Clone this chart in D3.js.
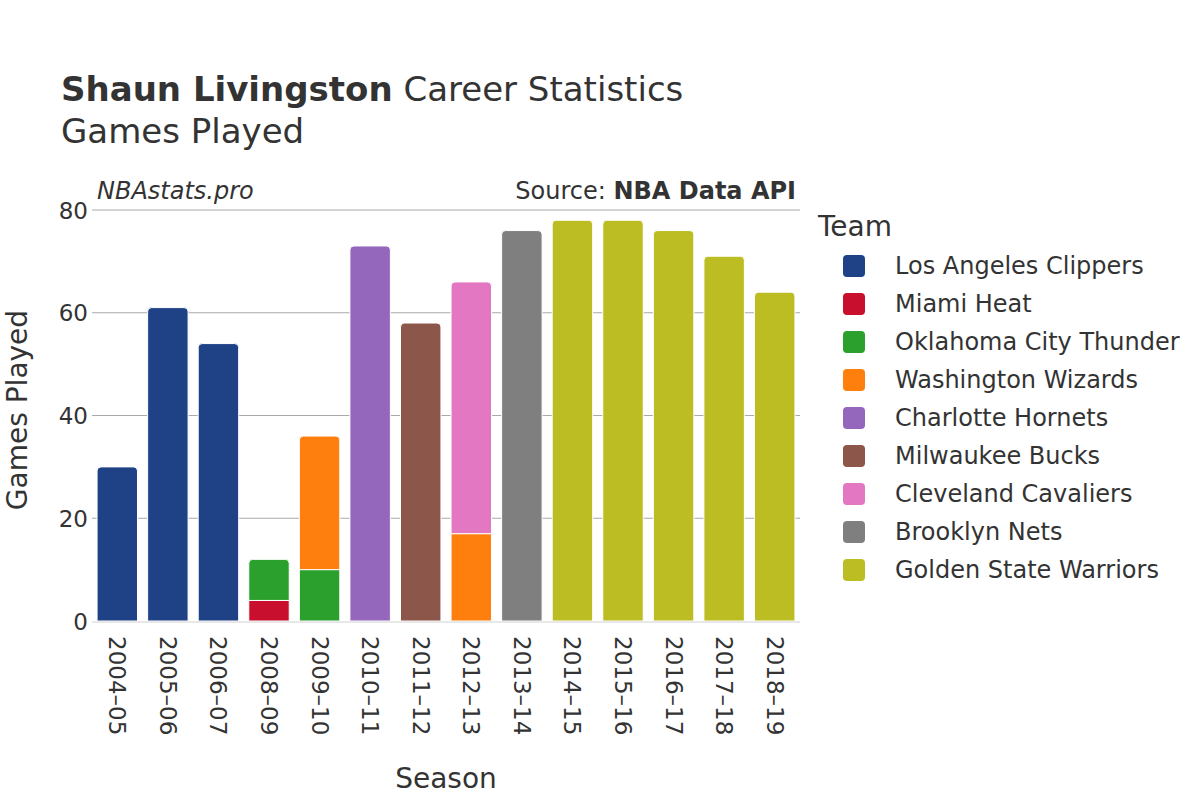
<!DOCTYPE html>
<html><head><meta charset="utf-8">
<script src="https://cdn.jsdelivr.net/npm/d3@7"></script>
<style>body{margin:0;background:#fff;} text{font-family:"DejaVu Sans",sans-serif;fill:#333;}</style>
</head><body><svg id="c" width="1200" height="800"></svg>
<script>
const seasons = ["2004–05","2005–06","2006–07","2008–09","2009–10","2010–11","2011–12","2012–13","2013–14","2014–15","2015–16","2016–17","2017–18","2018–19"];
const teams = ["Los Angeles Clippers","Miami Heat","Oklahoma City Thunder","Washington Wizards","Charlotte Hornets","Milwaukee Bucks","Cleveland Cavaliers","Brooklyn Nets","Golden State Warriors"];
const teamColors = ["#1f4287","#c8102e","#2ca02c","#ff7f0e","#9467bd","#8c564b","#e377c2","#7f7f7f","#bcbd22"];
// games per season per team (in stacking order)
const gamesSeason = ["2004–05","2005–06","2006–07","2008–09","2008–09","2009–10","2009–10","2010–11","2011–12","2012–13","2012–13","2013–14","2014–15","2015–16","2016–17","2017–18","2018–19"];
const gamesTeam = ["Los Angeles Clippers","Los Angeles Clippers","Los Angeles Clippers","Miami Heat","Oklahoma City Thunder","Oklahoma City Thunder","Washington Wizards","Charlotte Hornets","Milwaukee Bucks","Washington Wizards","Cleveland Cavaliers","Brooklyn Nets","Golden State Warriors","Golden State Warriors","Golden State Warriors","Golden State Warriors","Golden State Warriors"];
const gamesValue = [30,61,54,4,8,10,26,73,58,17,49,76,78,78,76,71,64];
const yTicks = [0,20,40,60,80];

const svg = d3.select("#c");
const L=92,R=800,T=210,B=621;
const x = d3.scaleBand().domain(seasons).range([L,R]).paddingInner(0.2).paddingOuter(0.1);
const y = d3.scaleLinear().domain([0,80]).range([B,T]);
const color = d3.scaleOrdinal().domain(teams).range(teamColors);

// gridlines
svg.append("g").selectAll("line").data(yTicks.filter(d=>d>0)).join("line")
 .attr("x1",L).attr("x2",R).attr("y1",d=>y(d)).attr("y2",d=>y(d))
 .attr("stroke","#aaa").attr("stroke-width",1);

// stack segments
const base = {};
const segs = gamesValue.map((v,i)=>{
  const s=gamesSeason[i]; const b=base[s]||0; base[s]=b+v;
  return {season:s, team:gamesTeam[i], y0:b, y1:b+v};
});
const tops = {};
segs.forEach(d=>{tops[d.season]=Math.max(tops[d.season]||0,d.y1);});
const r=4;
function segPath(d){
  const x0=x(d.season), w=x.bandwidth(), yt=y(d.y1), yb=y(d.y0);
  if (d.y1===tops[d.season]) {
    return `M${x0},${yb}V${yt+r}Q${x0},${yt} ${x0+r},${yt}H${x0+w-r}Q${x0+w},${yt} ${x0+w},${yt+r}V${yb}Z`;
  }
  return `M${x0},${yb}V${yt}H${x0+w}V${yb}Z`;
}
svg.append("g").selectAll("path").data(segs).join("path")
 .attr("d",segPath).attr("fill",d=>color(d.team))
 .attr("stroke","#fff").attr("stroke-width",1);

// zero line
svg.append("line").attr("x1",L).attr("x2",R).attr("y1",y(0)+1).attr("y2",y(0)+1)
 .attr("stroke","#e8e8e8").attr("stroke-width",2);

// y axis
const ya = svg.append("g").attr("transform",`translate(${L},0)`)
 .call(d3.axisLeft(y).tickValues(yTicks).tickSize(0).tickPadding(4));
ya.attr("font-size",null).attr("font-family",null);
ya.select(".domain").remove();
ya.selectAll("text").attr("font-size","23px").style("font-size","23px").attr("fill","#333").attr("dy","0.35em");

// x axis
const xa = svg.append("g").attr("transform",`translate(0,${B})`)
 .call(d3.axisBottom(x).tickSize(0));
xa.attr("font-size",null).attr("font-family",null);
xa.select(".domain").remove();
xa.selectAll("text").attr("font-size","23px").style("font-size","23px").attr("fill","#333")
 .attr("text-anchor","start").attr("transform","rotate(90)").attr("x",15).attr("y",0).attr("dy","0.35em");

// titles
const t = svg.append("text").attr("x",61).attr("y",101).style("font-size","34px");
t.append("tspan").style("font-weight","bold").text("Shaun Livingston");
t.append("tspan").text(" Career Statistics");
svg.append("text").attr("x",61).attr("y",143).style("font-size","34px").text("Games Played");
svg.append("text").attr("x",97).attr("y",199).style("font-size","24px").style("font-style","italic").text("NBAstats.pro");
const s = svg.append("text").attr("x",796).attr("y",199).attr("text-anchor","end").style("font-size","24px");
s.append("tspan").text("Source: ");
s.append("tspan").style("font-weight","bold").text("NBA Data API");
svg.append("text").attr("x",446).attr("y",788).attr("text-anchor","middle").style("font-size","28px").text("Season");
svg.append("text").attr("transform","translate(17,410) rotate(-90)").attr("text-anchor","middle").attr("dy","0.35em").style("font-size","28px").text("Games Played");

// legend
svg.append("text").attr("x",818).attr("y",236).style("font-size","28px").text("Team");
const lg = svg.append("g").selectAll("g").data(teams).join("g")
 .attr("transform",(d,i)=>`translate(843,${266+i*38})`);
lg.append("rect").attr("x",0).attr("y",-11).attr("width",22).attr("height",22).attr("rx",4)
 .attr("fill",d=>color(d));
lg.append("text").attr("x",52).attr("y",0).attr("dy","0.35em").style("font-size","24px").text(d=>d);
</script></body></html>
